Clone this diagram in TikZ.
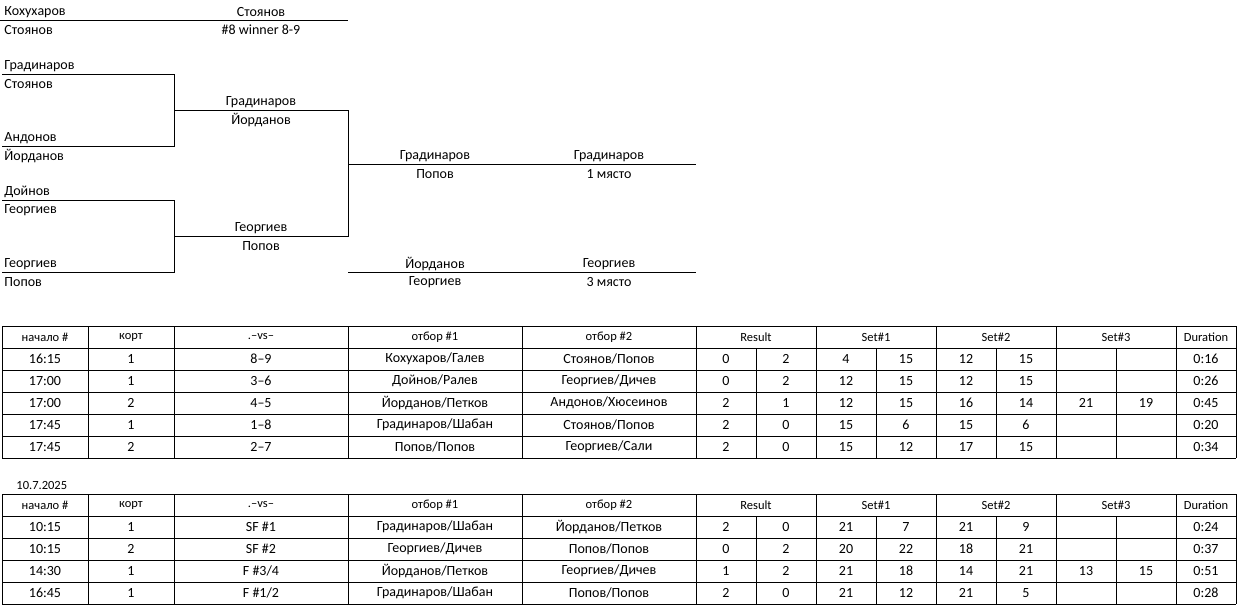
\documentclass[tikz,border=0pt]{standalone}
\usepackage{fontspec}
\setmainfont{Carlito}
\begin{document}
\begin{tikzpicture}[x=1pt,y=-1pt,line width=0.9pt,
  txt/.style={inner sep=0pt,font=\fontsize{14}{14}\selectfont},
  lt/.style={txt,anchor=west},
  hd/.style={inner sep=0pt,font=\fontsize{12.5}{12.5}\selectfont}]
\useasboundingbox[fill=white] (0,0) rectangle (1239,608);
% bracket text
\def\ry#1{#1*18+11}
\foreach \r/\t in {0/Кохухаров/Галев,1/Стоянов/Попов,3/Градинаров/Шабан,4/Стоянов/Попов,7/Андонов/Хюсеинов,8/Йорданов/Петков,10/Дойнов/Ралев,11/Георгиев/Дичев,14/Георгиев/Сали,15/Попов/Попов}
  \node[lt] (a\r) at (4,{\r*18+12}) {\t};
\foreach \r/\t in {0/Стоянов/Попов,1/\#8 winner 8-9,5/Градинаров/Шабан,6/Йорданов/Петков,12/Георгиев/Дичев,13/Попов/Попов}
  \node[txt] (b\r) at (261,{\r*18+12}) {\t};
\foreach \r/\t in {8/Градинаров/Шабан,9/Попов/Попов,14/Йорданов/Петков,15/Георгиев/Дичев}
  \node[txt] (c\r) at (435,{\r*18+12}) {\t};
\foreach \r/\t in {8/Градинаров/Шабан,9/1 място,14/Георгиев/Дичев,15/3 място}
  \node[txt] (d\r) at (609,{\r*18+12}) {\t};
\draw (0,20) -- (348,20);
\draw (2,74) -- (174,74) -- (174,146) -- (2,146);
\draw (2,200) -- (174,200) -- (174,272) -- (2,272);
\draw (174,110) -- (348,110) -- (348,236) -- (174,236);
\draw (348,164) -- (696,164);
\draw (348,272) -- (696,272);
% tables
\def\cols{2,88,174,348,522,696,816,936,1056,1176,1236}
\foreach \top/\n in {326/5,494/4}{
  \pgfmathsetmacro\bot{\top+22*(\n+1)}
  \foreach \k in {0,...,\n}{\draw (2,{\top+22*\k}) -- (1236,{\top+22*\k});}
  \draw (2,\bot) -- (1236,\bot);
  \foreach \c in \cols {\draw (\c,\top) -- (\c,\bot);}
  \foreach \c in {756,876,996,1116}{\draw (\c,\top+22) -- (\c,\bot);}
  \foreach \c/\t in {45/начало \#,131/корт,261/.--vs--,435/отбор \#1,609/отбор \#2,756/Result,876/Set\#1,996/Set\#2,1116/Set\#3,1206/Duration}
    \node[hd] at (\c,\top+11) {\t};
}
\node[hd,anchor=west] (date) at (16,485) {10.7.2025};
\def\cx{45,131,261,435,609,726,786,846,906,966,1026,1086,1146,1206}
\foreach [count=\i] \row in {
 {16:15,1,8--9,Кохухаров/Галев,Стоянов/Попов,0,2,4,15,12,15,,,0:16},
 {17:00,1,3--6,Дойнов/Ралев,Георгиев/Дичев,0,2,12,15,12,15,,,0:26},
 {17:00,2,4--5,Йорданов/Петков,Андонов/Хюсеинов,2,1,12,15,16,14,21,19,0:45},
 {17:45,1,1--8,Градинаров/Шабан,Стоянов/Попов,2,0,15,6,15,6,,,0:20},
 {17:45,2,2--7,Попов/Попов,Георгиев/Сали,2,0,15,12,17,15,,,0:34}}{
  \foreach [count=\j] \v in \row {
    \pgfmathsetmacro\xx{{\cx}[\j-1]}
    \node[txt] at (\xx,{326+22*\i+11}) {\v};
  }
}
\foreach [count=\i] \row in {
 {10:15,1,SF \#1,Градинаров/Шабан,Йорданов/Петков,2,0,21,7,21,9,,,0:24},
 {10:15,2,SF \#2,Георгиев/Дичев,Попов/Попов,0,2,20,22,18,21,,,0:37},
 {14:30,1,F \#3/4,Йорданов/Петков,Георгиев/Дичев,1,2,21,18,14,21,13,15,0:51},
 {16:45,1,F \#1/2,Градинаров/Шабан,Попов/Попов,2,0,21,12,21,5,,,0:28}}{
  \foreach [count=\j] \v in \row {
    \pgfmathsetmacro\xx{{\cx}[\j-1]}
    \node[txt] at (\xx,{494+22*\i+11}) {\v};
  }
}
\end{tikzpicture}
\end{document}
